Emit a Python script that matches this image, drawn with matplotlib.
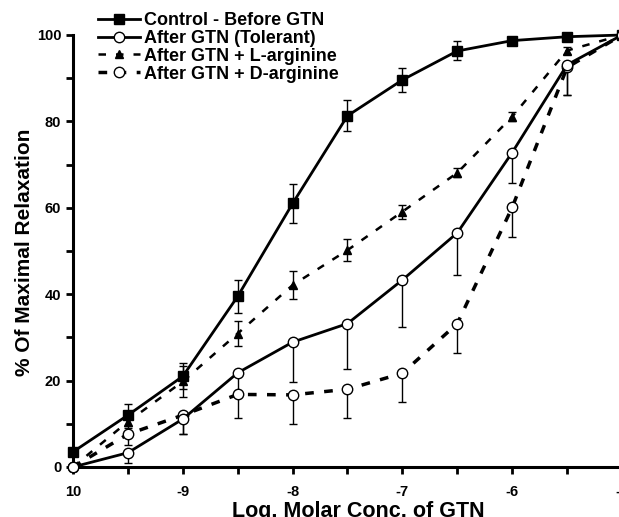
import matplotlib
matplotlib.use("Agg")
import matplotlib.pyplot as plt
import numpy as np

plt.rcParams['font.family'] = ['Liberation Sans', 'DejaVu Sans']
plt.rcParams['font.weight'] = 'bold'

log_conc = [-10, -9.5, -9, -8.5, -8, -7.5, -7, -6.5, -6, -5.5, -5]

control = [3.5, 12, 21, 39.5, 61, 81.3, 89.6, 96.3, 98.7, 99.6, 100]
control_err = [1.0, 2.5, 3.0, 3.8, 4.5, 3.6, 2.8, 2.2, 0.8, 0.5, 0.0]

tolerant = [0, 3.3, 11.1, 21.8, 28.9, 33.2, 43.3, 54.2, 72.8, 93.1, 100]
tolerant_err = [0, 2.4, 3.5, 5.0, 9.3, 10.4, 10.8, 9.8, 7.1, 7.0, 0]

l_arg = [0, 10.5, 19.8, 30.9, 42.1, 50.2, 59.1, 68.1, 81.1, 96.4, 100]
l_arg_err = [0, 1.5, 3.5, 2.9, 3.2, 2.6, 1.6, 1.0, 1.0, 0.8, 0]

d_arg = [0, 7.6, 12.0, 16.8, 16.7, 18.0, 21.7, 33.2, 60.1, 92.5, 100]
d_arg_err = [0, 2.4, 4.4, 5.4, 6.7, 6.6, 6.6, 6.9, 6.8, 6.5, 0]

x_ticks = [-10, -9, -8, -7, -6, -5]
x_ticklabels = ['10', '-9', '-8', '-7', '-6', '-5']
y_ticks = [0, 20, 40, 60, 80, 100]

fig = plt.figure(figsize=(6.19, 5.17), dpi=100)
ax = fig.add_axes([73/619, 1 - 467/517, (622 - 73)/619, (467 - 35)/517])

lw = 2.0
eb = dict(fmt='none', ecolor='black', elinewidth=1.0, capsize=2.8, capthick=1.0,
          clip_on=False, zorder=2)
ax.errorbar(log_conc, control, yerr=control_err, **eb)
ax.errorbar(log_conc, l_arg, yerr=l_arg_err, **eb)
ax.errorbar(log_conc, tolerant, yerr=[tolerant_err, [0]*len(tolerant_err)], **eb)
ax.errorbar(log_conc, d_arg, yerr=[d_arg_err, [0]*len(d_arg_err)], **eb)

ax.plot(log_conc, control, color='black', lw=lw, marker='s', ms=7.5, mfc='black',
        label='Control - Before GTN', clip_on=False, zorder=4)
ax.plot(log_conc, tolerant, color='black', lw=lw, marker='o', ms=7.5, mfc='white',
        mec='black', mew=1.0, label='After GTN (Tolerant)', clip_on=False, zorder=4)
ax.plot(log_conc, l_arg, color='black', lw=1.8, ls=(0, (3, 4)), marker='^', ms=6,
        mfc='black', label='After GTN + L-arginine', clip_on=False, zorder=3)
ax.plot(log_conc, d_arg, color='black', lw=2.5, ls=(0, (2.5, 3)), marker='o', ms=7.5,
        mfc='white', mec='black', mew=1.0, label='After GTN + D-arginine',
        clip_on=False, zorder=3)

ax.set_xlim(-10, -5)
ax.set_ylim(0, 100)
ax.spines['top'].set_visible(False)
ax.spines['right'].set_visible(False)
ax.spines['left'].set_linewidth(2.2)
ax.spines['bottom'].set_linewidth(2.2)

ax.set_xticks(x_ticks)
ax.set_xticklabels(x_ticklabels, fontsize=10.5, fontweight='bold')
ax.set_xticks(np.arange(-9.5, -5, 1.0), minor=True)
ax.set_yticks(y_ticks)
ax.set_yticklabels([str(v) for v in y_ticks], fontsize=10.5, fontweight='bold')
ax.set_yticks(np.arange(10, 100, 20), minor=True)
ax.tick_params(axis='both', which='both', direction='out', length=5, width=2.0)
ax.tick_params(axis='x', pad=8)

ax.set_xlabel('Log. Molar Conc. of GTN', fontsize=15.5, fontweight='bold')
ax.xaxis.set_label_coords(0.519, -0.078)
ax.set_ylabel('% Of Maximal Relaxation', fontsize=15, fontweight='bold')
ax.yaxis.set_label_coords(-0.071, 0.497)

leg = ax.legend(loc='upper left', bbox_to_anchor=(0.033, 1.07), frameon=False,
                fontsize=13, handlelength=2.3, handletextpad=0.25, labelspacing=0.05,
                borderaxespad=0)
for t in leg.get_texts():
    t.set_fontweight('bold')

fig.savefig('out.png', dpi=100)
